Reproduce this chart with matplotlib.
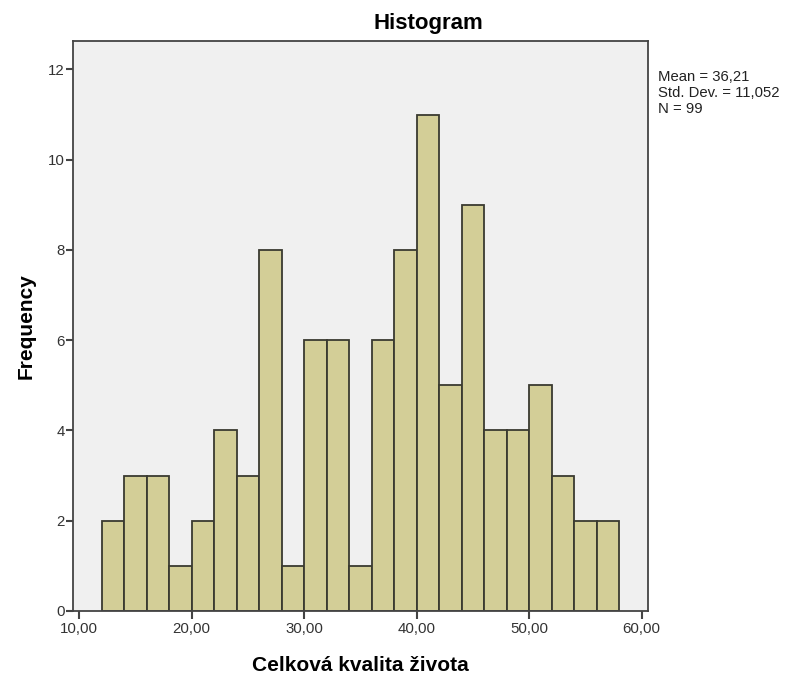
import matplotlib
matplotlib.use("Agg")
import matplotlib.pyplot as plt

# histogram of "Celková kvalita života", bins of width 2
bin_left = [12, 14, 16, 18, 20, 22, 24, 26, 28, 30, 32, 34,
            36, 38, 40, 42, 44, 46, 48, 50, 52, 54, 56]
counts = [2, 3, 3, 1, 2, 4, 3, 8, 1, 6, 6, 1,
          6, 8, 11, 5, 9, 4, 4, 5, 3, 2, 2]
bin_width = 2
xticks = [10, 20, 30, 40, 50, 60]
yticks = [0, 2, 4, 6, 8, 10, 12]
stats = ["Mean = 36,21", "Std. Dev. = 11,052", "N = 99"]

plt.rcParams['font.family'] = ['Liberation Sans', 'DejaVu Sans']

fig = plt.figure(figsize=(7.87, 6.77), dpi=100)
ax = fig.add_axes([0.0928, 0.0975, 0.7306, 0.8419])
ax.set_facecolor('#F0F0F0')

ax.bar(bin_left, counts, width=bin_width, align='edge',
       color='#D3CE97', edgecolor='#3A3A30', linewidth=1.3, zorder=2)

ax.set_xlim(9.47, 60.56)
ax.set_ylim(0, 12.63)
ax.set_xticks(xticks)
ax.set_xticklabels([f"{t},00" for t in xticks])
ax.set_yticks(yticks)

for s in ax.spines.values():
    s.set_color('#444444')
    s.set_linewidth(1.3)

ax.tick_params(axis='x', direction='out', length=6, width=1.5, color='#444444',
               labelsize=10.8, labelcolor='#333333', pad=2)
ax.tick_params(axis='y', direction='out', length=5, width=1.5, color='#444444',
               labelsize=10.8, labelcolor='#333333', pad=1)

ax.set_xlabel("Celková kvalita života", fontsize=15, fontweight='bold', labelpad=14)
ax.set_ylabel("Frequency", fontsize=15, fontweight='bold', labelpad=9)

fig.text(428/787, 1 - 23/677, "Histogram", fontsize=16, fontweight='bold',
         ha='center', va='center')

for i, line in enumerate(stats):
    fig.text(658/787, 1 - (77 + 16*i)/677, line, fontsize=10.7,
             ha='left', va='center', color='#222222')

fig.savefig("out.png", dpi=100, facecolor='white')
